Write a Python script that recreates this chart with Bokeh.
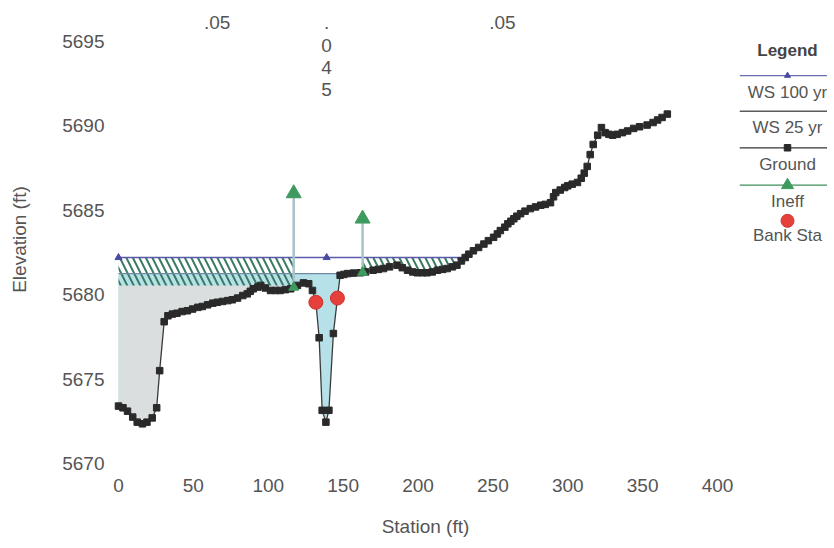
import numpy as np
from bokeh.plotting import figure
from bokeh.layouts import row
from bokeh.models import Range1d, FixedTicker
from bokeh.core.properties import value
from bokeh.embed import file_html
from bokeh.resources import INLINE

FONT = "Liberation Sans"
TXT = "#555555"

# ---------------- data ----------------
ground_sta = [0, 3, 6, 9.5, 12.5, 16, 19, 22.5, 25.5, 27.5, 30.5, 33, 36, 39, 42.5, 46,
              49.5, 53, 56, 59.5, 63, 66, 69.5, 73, 76, 79.5, 83, 86, 88, 90, 93, 95, 98,
              101.5, 105, 108, 111.5, 115, 119.5, 123.5, 127, 129.5, 131.8, 134, 136,
              138.5, 140.5, 143.5, 146.2, 148, 150.5, 153, 157, 161.5, 165, 170, 173.5,
              177, 181, 186, 189.5, 193, 196.5, 199.5, 203, 206, 209.5, 213, 216.5, 219.5,
              223, 226, 229, 231.5, 234, 237, 240.5, 244, 247, 250.5, 253, 255, 258, 260,
              262, 264, 266, 268.5, 271.5, 275, 278.5, 282, 285, 288.5, 290.5, 292, 295,
              298, 300, 303, 306.5, 309, 311, 313, 315, 317, 320, 322.5, 325, 327.5, 330,
              333, 336.5, 340, 344, 348, 353, 357, 360, 363, 366.5]
ground_elev = [5673.4, 5673.3, 5673.1, 5672.75, 5672.45, 5672.35, 5672.45, 5672.7, 5673.3,
               5675.5, 5678.4, 5678.75, 5678.85, 5678.9, 5679.0, 5679.05, 5679.15, 5679.25,
               5679.3, 5679.4, 5679.5, 5679.55, 5679.6, 5679.65, 5679.7, 5679.8, 5679.95,
               5680.05, 5680.2, 5680.35, 5680.45, 5680.55, 5680.4, 5680.25, 5680.25,
               5680.25, 5680.3, 5680.35, 5680.55, 5680.7, 5680.65, 5680.25, 5679.55,
               5677.45, 5673.15, 5672.45, 5673.15, 5677.7, 5679.8, 5681.15, 5681.2,
               5681.25, 5681.28, 5681.3, 5681.35, 5681.45, 5681.5, 5681.55, 5681.65,
               5681.75, 5681.6, 5681.45, 5681.35, 5681.3, 5681.3, 5681.3, 5681.35, 5681.45,
               5681.5, 5681.55, 5681.65, 5681.75, 5682.0, 5682.2, 5682.4, 5682.6, 5682.8,
               5683.0, 5683.2, 5683.4, 5683.6, 5683.8, 5684.0, 5684.2, 5684.35, 5684.5,
               5684.65, 5684.8, 5684.95, 5685.1, 5685.2, 5685.3, 5685.35, 5685.45, 5685.8,
               5686.05, 5686.2, 5686.35, 5686.45, 5686.55, 5686.65, 5686.9, 5687.2, 5687.6,
               5688.3, 5688.9, 5689.45, 5689.9, 5689.6, 5689.5, 5689.45, 5689.5, 5689.6,
               5689.7, 5689.85, 5689.95, 5690.05, 5690.2, 5690.35, 5690.5, 5690.7]
ws100_elev = 5682.2
ws25_elev = 5681.25
ponded_elev = 5680.55
bank_sta = [131.8, 146.2]
ineff_sta = [117.0, 163.0]
ineff_elev = [5686.0, 5684.5]
n_values = [".05", ".045", ".05"]
x_ticks = [0, 50, 100, 150, 200, 250, 300, 350, 400]
y_ticks = [5670, 5675, 5680, 5685, 5690, 5695]
legend_labels = ["WS 100 yr", "WS 25 yr", "Ground", "Ineff", "Bank Sta"]

gs = np.array(ground_sta, dtype=float)
ge = np.array(ground_elev, dtype=float)


def water_end(level):
    idx = np.where((gs > bank_sta[1]) & (ge >= level))[0][0]
    i0 = idx - 1
    return gs[i0] + (level - ge[i0]) * (gs[idx] - gs[i0]) / (ge[idx] - ge[i0])


def profile(s0, s1):
    inner = gs[(gs > s0) & (gs < s1)]
    xs = np.concatenate([[s0], inner, [s1]])
    return xs, np.interp(xs, gs, ge)


end100 = water_end(ws100_elev)
end25 = water_end(ws25_elev)

# ---------------- main figure ----------------
p = figure(width=739, height=544, x_range=Range1d(-4.674, 414.69),
           y_range=Range1d(5669.585, 5696.955), output_backend="svg",
           toolbar_location=None, min_border_left=111, min_border_right=0,
           min_border_top=8, min_border_bottom=74)
p.outline_line_color = None
p.xgrid.grid_line_color = None
p.ygrid.grid_line_color = None
p.background_fill_color = "white"

# WS 25 water fill
xs, g = profile(0, end25)
p.varea(x=xs, y1=g, y2=np.maximum(g, ws25_elev), fill_color="#b6e1e8")
# ponded / ineffective water (gray)
xs, g = profile(0, ineff_sta[0])
p.varea(x=xs, y1=g, y2=np.maximum(g, ponded_elev), fill_color="#dadede")
# ineffective hatching left
xs, g = profile(0, ineff_sta[0])
p.varea(x=xs, y1=np.maximum(g, ponded_elev), y2=np.full_like(xs, ws100_elev),
        fill_alpha=0, hatch_pattern="\\", hatch_color="#3b7a62",
        hatch_weight=2, hatch_scale=13)
# ineffective hatching right
xs, g = profile(ineff_sta[1], end100)
p.varea(x=xs, y1=g, y2=np.maximum(g, ws100_elev),
        fill_alpha=0, hatch_pattern="\\", hatch_color="#3b7a62",
        hatch_weight=2, hatch_scale=13)

# WS lines
p.line([0, end25], [ws25_elev, ws25_elev], line_color="#6f8aa6", line_width=1.2)
p.line([0, end100], [ws100_elev, ws100_elev], line_color="#5a5aa8", line_width=1.4)
ws_mark = [0, (bank_sta[0] + bank_sta[1]) / 2, end100]
p.scatter(ws_mark, [ws100_elev] * 3, marker="triangle", size=7,
          fill_color="#4a4aa0", line_color="#4a4aa0")

# ineffective flow markers
ig = np.interp(ineff_sta, gs, ge)
p.segment(x0=ineff_sta, y0=ig, x1=ineff_sta, y1=ineff_elev,
          line_color="#a9c3cb", line_width=2.5)

# ground
p.line(gs, ge, line_color="#3a3a3a", line_width=1.3)
p.scatter(gs, ge, marker="square", size=6.5, fill_color="#2a2a2a", line_color="#2a2a2a")

p.scatter(ineff_sta, ineff_elev, marker="triangle", size=15,
          fill_color="#3f9a5f", line_color="#3f9a5f")
p.scatter(ineff_sta, ig, marker="triangle", size=10,
          fill_color="#3f9a5f", line_color="#3f9a5f")

# bank stations
bg = np.interp(bank_sta, gs, ge)
p.scatter(bank_sta, bg, marker="circle", size=14, fill_color="#e5403a",
          line_color="#d03333")

# Manning's n labels
bounds = [gs[0], bank_sta[0], bank_sta[1], gs[-1]]
mids = [(bounds[i] + bounds[i + 1]) / 2 for i in range(3)]
p.text(x=[mids[0], mids[2]], y=[5696.13, 5696.13], text=[n_values[0], n_values[2]],
       text_align="center", text_baseline="middle", text_font=value(FONT),
       text_font_size="19px", text_color=TXT)
p.text(x=[mids[1]], y=[5696.72], text=["\n".join(n_values[1])],
       text_align="center", text_baseline="top", text_font=value(FONT),
       text_font_size="19px", text_color=TXT, text_line_height=1.05)

# axes
for ax in (p.xaxis[0], p.yaxis[0]):
    ax.axis_line_color = None
    ax.major_tick_line_color = None
    ax.minor_tick_line_color = None
    ax.major_tick_out = 0
    ax.major_tick_in = 0
    ax.major_label_text_font = FONT
    ax.major_label_text_font_size = "19px"
    ax.major_label_text_color = TXT
    ax.axis_label_text_font = FONT
    ax.axis_label_text_font_size = "19px"
    ax.axis_label_text_font_style = "normal"
    ax.axis_label_text_color = TXT
p.xaxis.ticker = FixedTicker(ticks=x_ticks)
p.yaxis.ticker = FixedTicker(ticks=y_ticks)
p.xaxis.axis_label = "Station (ft)"
p.yaxis.axis_label = "Elevation (ft)"
p.xaxis.major_label_standoff = 8
p.xaxis.axis_label_standoff = 21
p.yaxis.major_label_standoff = 7
p.yaxis.axis_label_standoff = 29

# ---------------- legend figure ----------------
lf = figure(width=88, height=544, x_range=Range1d(739, 827), y_range=Range1d(544, 0),
            output_backend="svg", toolbar_location=None, min_border=0)
lf.axis.visible = False
lf.xgrid.grid_line_color = None
lf.ygrid.grid_line_color = None
lf.outline_line_color = None

cx = 787
line_y = [79, 121, 164, 208]
line_c = ["#6b6bb0", "#5a5a5a", "#333333", "#3f8f5a"]
lf.segment(x0=[739] * 4, x1=[827] * 4, y0=line_y, y1=line_y, line_color=line_c,
           line_width=1.3)
lf.scatter([cx], [79], marker="triangle", size=6, fill_color="#4a4aa0", line_color="#4a4aa0")
lf.scatter([cx], [164], marker="square", size=6.5, fill_color="#2a2a2a", line_color="#2a2a2a")
lf.scatter([cx], [208], marker="triangle", size=12, fill_color="#3f9a5f", line_color="#3f9a5f")
lf.scatter([cx], [250], marker="circle", size=13, fill_color="#e5403a", line_color="#d03333")
lf.text(x=[cx], y=[50], text=["Legend"], text_align="center", text_baseline="middle",
        text_font=value(FONT), text_font_size="17px", text_font_style="bold",
        text_color="#444444")
lf.text(x=[cx] * 5, y=[99, 140, 184, 227, 267], text=legend_labels, text_align="center",
        text_baseline="middle", text_font=value(FONT), text_font_size="17px",
        text_color=TXT)

layout = row(p, lf)
open("out.html", "w").write(file_html(layout, INLINE))
